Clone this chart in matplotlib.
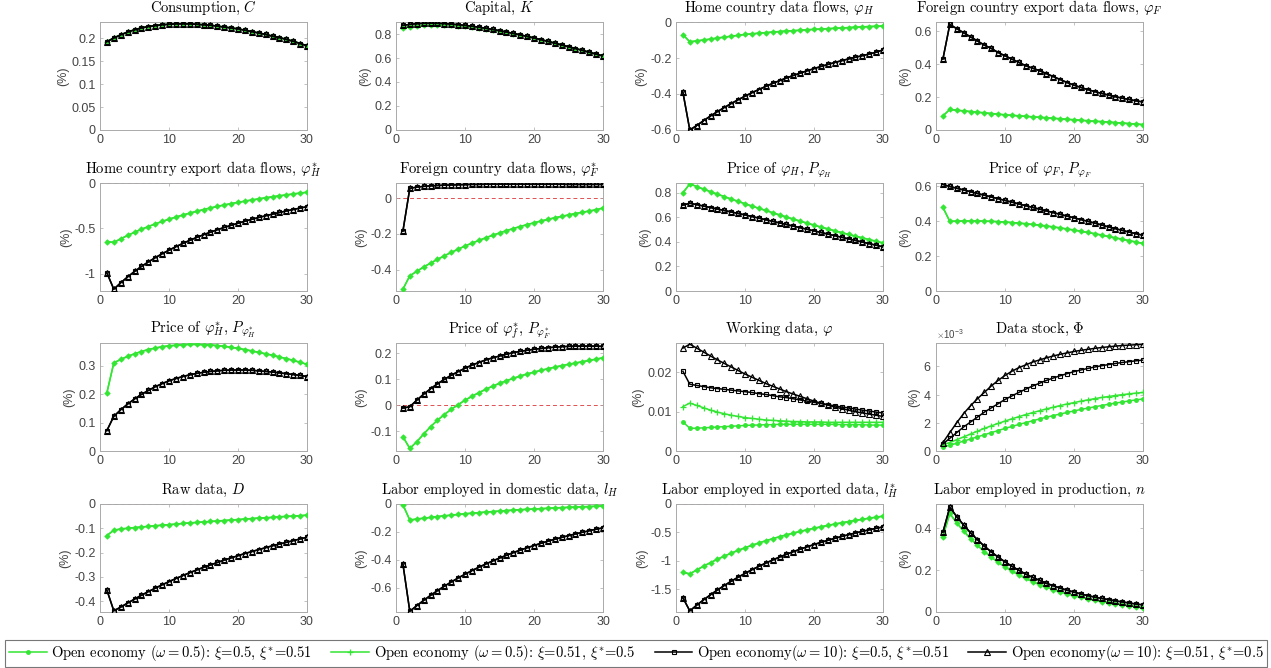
import matplotlib
matplotlib.use("Agg")
import matplotlib.pyplot as plt
import numpy as np
from matplotlib.ticker import FuncFormatter

plt.rcParams['mathtext.fontset'] = 'cm'
plt.rcParams['axes.formatter.use_mathtext'] = True
plt.rcParams['font.family'] = ['Liberation Sans', 'DejaVu Sans']

t = np.arange(1, 31)

# ---- data (per cent deviations) ----
cons_black = [0.193, 0.201, 0.208, 0.214, 0.219, 0.223, 0.226, 0.228, 0.230, 0.231,
              0.232, 0.232, 0.232, 0.231, 0.230, 0.229, 0.227, 0.225, 0.223, 0.221,
              0.218, 0.215, 0.212, 0.209, 0.205, 0.202, 0.198, 0.194, 0.189, 0.184]
cons_green = cons_black

cap_black = [0.872, 0.880, 0.886, 0.889, 0.890, 0.889, 0.887, 0.883, 0.878, 0.872,
             0.865, 0.857, 0.848, 0.838, 0.828, 0.817, 0.805, 0.793, 0.780, 0.767,
             0.753, 0.739, 0.724, 0.709, 0.694, 0.679, 0.664, 0.648, 0.633, 0.617]
cap_green = [0.850, 0.860, 0.868, 0.873, 0.876, 0.877, 0.876, 0.874, 0.870, 0.865,
             0.859, 0.852, 0.844, 0.835, 0.825, 0.815, 0.804, 0.792, 0.780, 0.767,
             0.753, 0.739, 0.724, 0.709, 0.694, 0.679, 0.664, 0.648, 0.633, 0.617]

phiH_green = [-0.070, -0.110, -0.105, -0.100, -0.095, -0.089, -0.084, -0.079, -0.074, -0.069,
              -0.066, -0.062, -0.059, -0.056, -0.053, -0.050, -0.048, -0.046, -0.043, -0.041,
              -0.039, -0.037, -0.035, -0.033, -0.031, -0.029, -0.027, -0.025, -0.024, -0.022]
phiH_black = [-0.390, -0.600, -0.575, -0.548, -0.522, -0.498, -0.475, -0.453, -0.432, -0.412,
              -0.393, -0.375, -0.358, -0.341, -0.326, -0.311, -0.297, -0.284, -0.271, -0.259,
              -0.247, -0.236, -0.225, -0.215, -0.205, -0.196, -0.187, -0.178, -0.168, -0.155]

phiF_black = [0.430, 0.640, 0.615, 0.590, 0.565, 0.540, 0.515, 0.495, 0.470, 0.450,
              0.430, 0.410, 0.390, 0.375, 0.360, 0.342, 0.324, 0.306, 0.288, 0.272,
              0.258, 0.245, 0.233, 0.222, 0.212, 0.202, 0.193, 0.185, 0.177, 0.170]
phiF_green = [0.085, 0.125, 0.120, 0.116, 0.112, 0.108, 0.104, 0.100, 0.096, 0.092,
              0.089, 0.086, 0.083, 0.080, 0.077, 0.074, 0.071, 0.068, 0.065, 0.062,
              0.059, 0.056, 0.053, 0.051, 0.048, 0.045, 0.042, 0.039, 0.036, 0.033]

phiHs_green = [-0.645, -0.655, -0.615, -0.578, -0.543, -0.510, -0.480, -0.451, -0.424, -0.399,
               -0.375, -0.353, -0.332, -0.312, -0.293, -0.275, -0.258, -0.242, -0.227, -0.213,
               -0.200, -0.187, -0.175, -0.163, -0.152, -0.141, -0.131, -0.121, -0.111, -0.102]
phiHs_black = [-0.990, -1.170, -1.100, -1.035, -0.975, -0.920, -0.870, -0.823, -0.780, -0.740,
               -0.702, -0.666, -0.632, -0.600, -0.570, -0.542, -0.515, -0.490, -0.466, -0.443,
               -0.421, -0.400, -0.380, -0.361, -0.343, -0.325, -0.308, -0.292, -0.276, -0.261]

phiFs_green = [-0.510, -0.435, -0.410, -0.386, -0.364, -0.343, -0.323, -0.304, -0.286, -0.268,
               -0.252, -0.237, -0.222, -0.208, -0.195, -0.182, -0.170, -0.159, -0.148, -0.138,
               -0.128, -0.119, -0.110, -0.102, -0.094, -0.086, -0.079, -0.072, -0.065, -0.055]
phiFs_black = [-0.185, 0.055, 0.062, 0.066, 0.069, 0.071, 0.073, 0.074, 0.075, 0.076,
               0.077, 0.077, 0.078, 0.078, 0.078, 0.078, 0.078, 0.078, 0.078, 0.078,
               0.078, 0.078, 0.078, 0.078, 0.077, 0.077, 0.077, 0.077, 0.077, 0.077]

pH_green = [0.800, 0.873, 0.851, 0.830, 0.809, 0.789, 0.769, 0.749, 0.730, 0.711,
            0.692, 0.674, 0.656, 0.638, 0.620, 0.603, 0.586, 0.569, 0.553, 0.537,
            0.521, 0.506, 0.491, 0.476, 0.461, 0.447, 0.433, 0.419, 0.405, 0.392]
pH_black = [0.700, 0.715, 0.704, 0.692, 0.680, 0.668, 0.656, 0.644, 0.632, 0.620,
            0.607, 0.594, 0.581, 0.568, 0.555, 0.542, 0.529, 0.516, 0.503, 0.490,
            0.477, 0.464, 0.451, 0.438, 0.425, 0.412, 0.399, 0.386, 0.373, 0.360]

pF_green = [0.480, 0.400, 0.401, 0.402, 0.402, 0.402, 0.401, 0.400, 0.398, 0.396,
            0.393, 0.390, 0.386, 0.382, 0.378, 0.373, 0.368, 0.362, 0.356, 0.350,
            0.343, 0.336, 0.329, 0.321, 0.313, 0.305, 0.297, 0.289, 0.281, 0.273]
pF_black = [0.612, 0.600, 0.590, 0.580, 0.570, 0.560, 0.550, 0.540, 0.530, 0.520,
            0.510, 0.500, 0.490, 0.480, 0.470, 0.460, 0.450, 0.440, 0.430, 0.420,
            0.410, 0.400, 0.390, 0.379, 0.368, 0.358, 0.348, 0.338, 0.329, 0.320]

pHs_green = [0.205, 0.310, 0.322, 0.333, 0.342, 0.350, 0.357, 0.362, 0.367, 0.370,
             0.372, 0.374, 0.375, 0.375, 0.374, 0.373, 0.371, 0.368, 0.365, 0.361,
             0.357, 0.352, 0.347, 0.342, 0.337, 0.331, 0.325, 0.319, 0.312, 0.305]
pHs_black = [0.072, 0.122, 0.145, 0.165, 0.183, 0.199, 0.213, 0.226, 0.237, 0.247,
             0.255, 0.262, 0.268, 0.273, 0.277, 0.280, 0.282, 0.284, 0.285, 0.285,
             0.285, 0.284, 0.282, 0.280, 0.278, 0.275, 0.272, 0.269, 0.266, 0.262]

pFs_green = [-0.120, -0.165, -0.140, -0.110, -0.082, -0.057, -0.035, -0.015, 0.003, 0.020,
             0.035, 0.049, 0.062, 0.074, 0.085, 0.095, 0.104, 0.113, 0.121, 0.128,
             0.135, 0.141, 0.147, 0.153, 0.158, 0.163, 0.168, 0.173, 0.178, 0.183]
pFs_black = [-0.010, -0.005, 0.020, 0.043, 0.064, 0.083, 0.100, 0.116, 0.130, 0.143,
             0.155, 0.165, 0.175, 0.183, 0.190, 0.197, 0.203, 0.208, 0.212, 0.216,
             0.219, 0.222, 0.224, 0.226, 0.227, 0.228, 0.228, 0.228, 0.228, 0.227]

work_dot = [0.0074, 0.0058, 0.0058, 0.0059, 0.0060, 0.0061, 0.0062, 0.0063, 0.0064, 0.0065,
            0.0066, 0.0066, 0.0067, 0.0067, 0.0068, 0.0068, 0.0068, 0.0068, 0.0068, 0.0068,
            0.0068, 0.0068, 0.0068, 0.0067, 0.0067, 0.0067, 0.0067, 0.0066, 0.0066, 0.0066]
work_plus = [0.0113, 0.0122, 0.0116, 0.0110, 0.0104, 0.0099, 0.0095, 0.0091, 0.0088, 0.0085,
             0.0083, 0.0081, 0.0079, 0.0078, 0.0077, 0.0076, 0.0075, 0.0075, 0.0074, 0.0074,
             0.0074, 0.0073, 0.0073, 0.0073, 0.0073, 0.0073, 0.0073, 0.0073, 0.0073, 0.0073]
work_sq = [0.0203, 0.0170, 0.0167, 0.0164, 0.0161, 0.0159, 0.0157, 0.0155, 0.0153, 0.0151,
           0.0149, 0.0146, 0.0144, 0.0141, 0.0138, 0.0136, 0.0133, 0.0130, 0.0127, 0.0124,
           0.0121, 0.0118, 0.0115, 0.0112, 0.0110, 0.0107, 0.0104, 0.0102, 0.0099, 0.0097]
work_tri = [0.0262, 0.0272, 0.0262, 0.0252, 0.0242, 0.0232, 0.0223, 0.0214, 0.0205, 0.0196,
            0.0188, 0.0180, 0.0172, 0.0165, 0.0158, 0.0151, 0.0145, 0.0139, 0.0133, 0.0127,
            0.0122, 0.0117, 0.0112, 0.0108, 0.0104, 0.0100, 0.0097, 0.0094, 0.0091, 0.0088]

# data stock, in units of 1e-3
stock_dot = [0.30, 0.40, 0.55, 0.70, 0.85, 1.00, 1.15, 1.30, 1.45, 1.60,
             1.74, 1.88, 2.01, 2.14, 2.27, 2.39, 2.51, 2.62, 2.73, 2.84,
             2.94, 3.04, 3.13, 3.22, 3.31, 3.39, 3.47, 3.55, 3.62, 3.69]
stock_plus = [0.45, 0.60, 0.80, 1.00, 1.20, 1.40, 1.60, 1.78, 1.95, 2.12,
              2.28, 2.43, 2.58, 2.72, 2.85, 2.98, 3.10, 3.22, 3.33, 3.43,
              3.53, 3.62, 3.71, 3.79, 3.86, 3.93, 3.99, 4.05, 4.10, 4.15]
stock_sq = [0.50, 0.90, 1.30, 1.70, 2.05, 2.40, 2.75, 3.05, 3.35, 3.65,
            3.90, 4.15, 4.38, 4.60, 4.80, 5.00, 5.17, 5.33, 5.48, 5.62,
            5.74, 5.85, 5.95, 6.04, 6.12, 6.20, 6.27, 6.33, 6.39, 6.44]
stock_tri = [0.60, 1.30, 2.00, 2.65, 3.20, 3.70, 4.15, 4.60, 5.00, 5.35,
             5.65, 5.90, 6.10, 6.30, 6.45, 6.60, 6.73, 6.85, 6.95, 7.05,
             7.13, 7.20, 7.27, 7.33, 7.38, 7.43, 7.47, 7.50, 7.53, 7.55]

raw_green = [-0.130, -0.108, -0.103, -0.100, -0.097, -0.095, -0.092, -0.090, -0.087, -0.085,
             -0.083, -0.080, -0.078, -0.076, -0.074, -0.072, -0.070, -0.068, -0.066, -0.064,
             -0.062, -0.060, -0.058, -0.057, -0.055, -0.053, -0.051, -0.050, -0.048, -0.046]
raw_black = [-0.355, -0.440, -0.425, -0.408, -0.392, -0.376, -0.361, -0.347, -0.333, -0.320,
             -0.307, -0.295, -0.283, -0.272, -0.261, -0.251, -0.241, -0.231, -0.222, -0.213,
             -0.204, -0.196, -0.188, -0.180, -0.172, -0.165, -0.158, -0.151, -0.144, -0.137]

lH_green = [-0.005, -0.115, -0.108, -0.102, -0.096, -0.090, -0.085, -0.080, -0.075, -0.070,
            -0.066, -0.062, -0.058, -0.054, -0.051, -0.047, -0.044, -0.041, -0.038, -0.036,
            -0.033, -0.031, -0.028, -0.026, -0.024, -0.022, -0.020, -0.018, -0.016, -0.014]
lH_black = [-0.430, -0.770, -0.730, -0.692, -0.656, -0.622, -0.590, -0.560, -0.531, -0.504,
            -0.478, -0.454, -0.431, -0.409, -0.388, -0.368, -0.349, -0.331, -0.314, -0.298,
            -0.282, -0.267, -0.253, -0.240, -0.227, -0.215, -0.203, -0.192, -0.181, -0.171]

lHs_green = [-1.200, -1.230, -1.160, -1.094, -1.031, -0.972, -0.917, -0.865, -0.816, -0.770,
             -0.727, -0.686, -0.647, -0.611, -0.576, -0.543, -0.512, -0.482, -0.454, -0.427,
             -0.401, -0.377, -0.353, -0.331, -0.309, -0.289, -0.269, -0.250, -0.232, -0.214]
lHs_black = [-1.650, -1.880, -1.780, -1.686, -1.597, -1.513, -1.434, -1.359, -1.288, -1.221,
             -1.157, -1.097, -1.040, -0.986, -0.934, -0.885, -0.839, -0.795, -0.753, -0.713,
             -0.675, -0.639, -0.604, -0.571, -0.540, -0.510, -0.481, -0.454, -0.428, -0.403]

n_green = [0.360, 0.470, 0.425, 0.386, 0.350, 0.318, 0.288, 0.262, 0.237, 0.215,
           0.195, 0.177, 0.160, 0.145, 0.131, 0.118, 0.107, 0.096, 0.087, 0.078,
           0.070, 0.063, 0.056, 0.050, 0.045, 0.040, 0.035, 0.030, 0.025, 0.020]
n_black = [0.380, 0.500, 0.455, 0.415, 0.378, 0.345, 0.314, 0.287, 0.262, 0.239,
           0.218, 0.199, 0.181, 0.165, 0.151, 0.137, 0.125, 0.114, 0.104, 0.095,
           0.086, 0.078, 0.071, 0.065, 0.059, 0.053, 0.048, 0.043, 0.038, 0.034]

titles = ['Consumption, $C$', 'Capital, $K$',
          'Home country data flows, $\\varphi_H$',
          'Foreign country export data flows, $\\varphi_F$',
          'Home country export data flows, $\\varphi_H^{*}$',
          'Foreign country data flows, $\\varphi_F^{*}$',
          'Price of $\\varphi_H$, $P_{\\varphi_H}$',
          'Price of $\\varphi_F$, $P_{\\varphi_F}$',
          'Price of $\\varphi_H^{*}$, $P_{\\varphi_H^{*}}$',
          'Price of $\\varphi_f^{*}$, $P_{\\varphi_F^{*}}$',
          'Working data, $\\varphi$', 'Data stock, $\\Phi$',
          'Raw data, $D$', 'Labor employed in domestic data, $l_H$',
          'Labor employed in exported data, $l_H^{*}$',
          'Labor employed in production, $n$']

# four series per panel: (green dot, green plus, black square, black triangle)
series = [
    (cons_green, cons_green, cons_black, cons_black),
    (cap_green, cap_green, cap_black, cap_black),
    (phiH_green, phiH_green, phiH_black, phiH_black),
    (phiF_green, phiF_green, phiF_black, phiF_black),
    (phiHs_green, phiHs_green, phiHs_black, phiHs_black),
    (phiFs_green, phiFs_green, phiFs_black, phiFs_black),
    (pH_green, pH_green, pH_black, pH_black),
    (pF_green, pF_green, pF_black, pF_black),
    (pHs_green, pHs_green, pHs_black, pHs_black),
    (pFs_green, pFs_green, pFs_black, pFs_black),
    (work_dot, work_plus, work_sq, work_tri),
    (np.array(stock_dot) * 1e-3, np.array(stock_plus) * 1e-3,
     np.array(stock_sq) * 1e-3, np.array(stock_tri) * 1e-3),
    (raw_green, raw_green, raw_black, raw_black),
    (lH_green, lH_green, lH_black, lH_black),
    (lHs_green, lHs_green, lHs_black, lHs_black),
    (n_green, n_green, n_black, n_black),
]

ylims = [(0, 0.236), (0, 0.9), (-0.6, 0), (0, 0.655),
         (-1.19, 0), (-0.52, 0.085), (0, 0.88), (0, 0.62),
         (0, 0.38), (-0.175, 0.24), (0, 0.0275), (0, 7.65e-3),
         (-0.445, 0), (-0.775, 0), (-1.9, 0), (0, 0.515)]
yticks = [[0, 0.05, 0.1, 0.15, 0.2], [0, 0.2, 0.4, 0.6, 0.8], [-0.6, -0.4, -0.2, 0],
          [0, 0.2, 0.4, 0.6], [-1, -0.5, 0], [-0.4, -0.2, 0], [0, 0.2, 0.4, 0.6, 0.8],
          [0, 0.2, 0.4, 0.6], [0, 0.1, 0.2, 0.3], [-0.1, 0, 0.1, 0.2], [0, 0.01, 0.02],
          [0, 2e-3, 4e-3, 6e-3], [-0.4, -0.3, -0.2, -0.1, 0], [-0.6, -0.4, -0.2, 0],
          [-1.5, -1, -0.5, 0], [0, 0.2, 0.4]]

labels = ['Open economy ($\\omega=0.5$): $\\xi$=0.5, $\\xi^{*}$=0.51',
          'Open economy ($\\omega=0.5$): $\\xi$=0.51, $\\xi^{*}$=0.5',
          'Open economy($\\omega=10$): $\\xi$=0.5, $\\xi^{*}$=0.51',
          'Open economy($\\omega=10$): $\\xi$=0.51, $\\xi^{*}$=0.5']

green = '#33e633'
styles = [dict(color=green, marker='.', ms=5),
          dict(color=green, marker='+', ms=4, mew=0.9),
          dict(color='black', marker='s', ms=3.2, mfc='none', mew=0.8),
          dict(color='black', marker='^', ms=4, mfc='none', mew=0.8)]

W, H = 1271, 668
fig = plt.figure(figsize=(W / 100, H / 100), dpi=100)

lefts = [100, 396, 676, 936]
tops = [22, 183, 343, 504]
aw, ah = 207, 108

fmt_plain = FuncFormatter(lambda v, p: '%g' % v)

handles = None
for i in range(16):
    r, c = divmod(i, 4)
    ax = fig.add_axes([lefts[c] / W, 1 - (tops[r] + ah) / H, aw / W, ah / H])
    ax.axhline(0, color='#e05050', ls='--', lw=0.7, dashes=(4, 3), zorder=1)
    hs = []
    for ys, st in zip(series[i], styles):
        h, = ax.plot(t, ys, lw=1.1, zorder=3, **st)
        hs.append(h)
    if handles is None:
        handles = hs
    ax.set_xlim(0, 30)
    ax.set_ylim(*ylims[i])
    ax.set_xticks([0, 10, 20, 30])
    ax.set_yticks(yticks[i])
    if i == 11:
        ax.ticklabel_format(axis='y', style='sci', scilimits=(-3, -3), useMathText=True)
        ax.yaxis.get_offset_text().set_fontsize(7)
        ax.yaxis.get_offset_text().set_color('#444444')
    else:
        ax.yaxis.set_major_formatter(fmt_plain)
    ax.xaxis.set_major_formatter(fmt_plain)
    ax.tick_params(direction='in', length=2.5, width=0.5, colors='#aaaaaa',
                   labelcolor='#444444', labelsize=9, top=True, right=True, pad=3)
    for sp in ax.spines.values():
        sp.set_color('#aaaaaa')
        sp.set_linewidth(0.7)
    ax.set_ylabel('(%)', fontsize=9, color='#444444', labelpad=2)
    ax.set_title(titles[i], fontsize=10.5, family='cmr10', pad=7)

leg = fig.legend(handles, labels, loc='lower left', ncol=4, mode='expand',
                 bbox_to_anchor=(5 / W, 1 - 667 / H, 1262 / W, 22 / H),
                 prop={'family': 'cmr10', 'size': 10.5}, handlelength=2.6,
                 handletextpad=0.3, columnspacing=0.8, borderaxespad=0,
                 fancybox=False, frameon=True, borderpad=0.25)
leg.get_frame().set_edgecolor('#555555')
leg.get_frame().set_linewidth(0.8)

fig.savefig('out.png', dpi=100)
